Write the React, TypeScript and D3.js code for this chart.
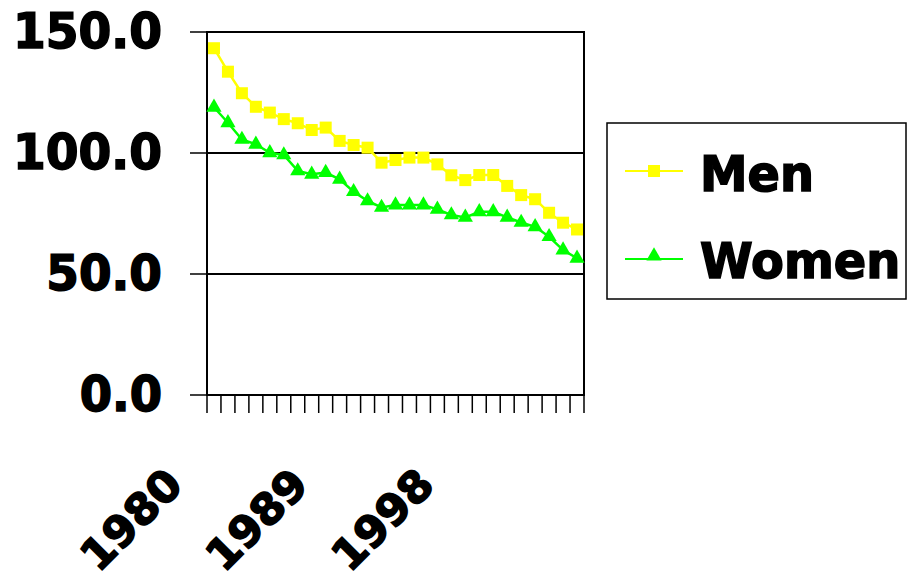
import React from "react";
import * as d3 from "d3";

const years = d3.range(1980, 2007).map(String);
const men = [143.3, 133.6, 124.7, 119.1, 116.7, 114.0, 112.3, 109.5, 110.5, 105.0, 103.3, 102.2, 96.0, 97.1, 98.1, 98.1, 95.3, 90.8, 88.8, 90.9, 90.9, 86.4, 82.6, 80.9, 75.3, 71.2, 68.4];
const women = [118.9, 112.5, 105.6, 103.6, 100.1, 99.2, 92.6, 91.2, 91.9, 89.1, 84.0, 80.2, 77.5, 78.5, 78.5, 78.5, 76.7, 74.4, 73.4, 75.7, 75.7, 73.4, 71.3, 69.5, 65.4, 59.9, 56.5];
const yTicks = [0, 50, 100, 150];
const labelYears = ["1980", "1989", "1998"];

const FONT = "'DejaVu Sans', sans-serif";
const MEN_COLOR = "#FFFF00";
const WOMEN_COLOR = "#00FF00";
const EM = 50;
const textW = (s: string) => {
  let w = 0;
  for (const c of s) {
    if (c === ".") w += 0.333;
    else if (c === "M" || c === "W") w += 0.944;
    else if (c === "m") w += 1.0;
    else w += 0.667;
  }
  return w * EM;
};

export default function App() {
  const W = 908, H = 580;
  const x = d3.scaleBand<string>().domain(years).range([207, 584]).padding(0);
  const y = d3.scaleLinear().domain([0, 150]).range([395, 32]);
  const cx = (yr: string) => (x(yr) as number) + x.bandwidth() / 2;
  const line = d3.line<number>().x((_, i) => cx(years[i])).y((d) => y(d));
  const tri = d3.symbol().type(d3.symbolTriangle).size(100)();

  const edges = years.map((yr) => x(yr) as number).concat([584]);
  const textProps = {
    fontFamily: FONT,
    fontWeight: "bold" as const,
    fontSize: 49,
    fill: "#000",
    stroke: "#000",
    strokeWidth: 1.6,
    lengthAdjust: "spacingAndGlyphs",
    style: { textRendering: "geometricPrecision" as const },
  };

  return (
    <svg width={W} height={H} style={{ position: "absolute", left: 0, top: 0, background: "#fff" }}>
      {yTicks.filter((t) => t > 0 && t < 150).map((t) => (
        <line key={t} x1={207} x2={584} y1={y(t)} y2={y(t)} stroke="#000" strokeWidth={2} />
      ))}
      <rect x={207} y={y(150)} width={584 - 207} height={y(0) - y(150)} fill="none" stroke="#000" strokeWidth={2} />
      {yTicks.map((t) => (
        <g key={t}>
          <line x1={190} x2={207} y1={y(t)} y2={y(t)} stroke="#000" strokeWidth={1.5} />
          <text x={162} y={y(t) + 16} textAnchor="end" {...textProps} textLength={textW(t.toFixed(1)) - 1}>{t.toFixed(1)}</text>
        </g>
      ))}
      {edges.map((e, i) => (
        <line key={i} x1={e} x2={e} y1={395} y2={413} stroke="#000" strokeWidth={1.5} />
      ))}
      {labelYears.map((yr) => (
        <text key={yr} transform={`translate(${cx(yr) - 29},487) rotate(-45)`} textAnchor="end"
          {...textProps} fontSize={43} textLength={textW(yr) - 11}>{yr}</text>
      ))}
      <path d={line(men) as string} fill="none" stroke={MEN_COLOR} strokeWidth={2.5} />
      {men.map((v, i) => (
        <rect key={i} x={cx(years[i]) - 6} y={y(v) - 6} width={12} height={12} fill={MEN_COLOR} />
      ))}
      <path d={line(women) as string} fill="none" stroke={WOMEN_COLOR} strokeWidth={2.5} />
      {women.map((v, i) => (
        <path key={i} d={tri as string} transform={`translate(${cx(years[i])},${y(v)})`} fill={WOMEN_COLOR} />
      ))}
      <rect x={607} y={123} width={299} height={176} fill="#fff" stroke="#000" strokeWidth={1.5} />
      <line x1={625} x2={683} y1={171} y2={171} stroke={MEN_COLOR} strokeWidth={2} />
      <rect x={648} y={165} width={12} height={12} fill={MEN_COLOR} />
      <text x={700} y={191} {...textProps} textLength={textW("Men")}>Men</text>
      <line x1={625} x2={683} y1={259} y2={259} stroke={WOMEN_COLOR} strokeWidth={2} />
      <path d={tri as string} transform="translate(654,256)" fill={WOMEN_COLOR} />
      <text x={700} y={278} {...textProps} textLength={textW("Women") + 3}>Women</text>
    </svg>
  );
}
